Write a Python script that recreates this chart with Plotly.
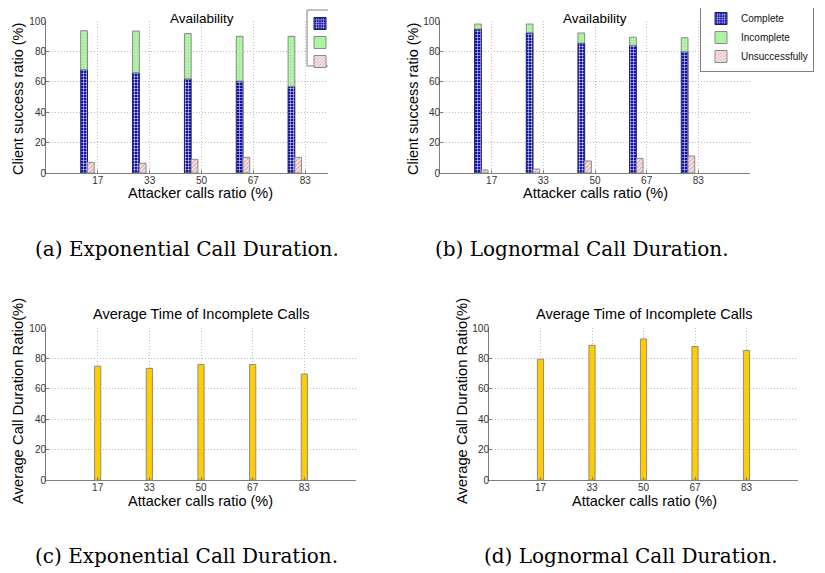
import plotly.graph_objects as go

# ---------------- data ----------------
categories = ["17", "33", "50", "67", "83"]

exp_complete = [68.0, 66.0, 62.0, 60.5, 57.0]
exp_incomplete = [25.6, 27.4, 29.7, 29.4, 32.9]
exp_unsuccessful = [7.0, 6.4, 9.0, 10.3, 10.3]

logn_complete = [94.7, 92.3, 85.5, 84.0, 79.8]
logn_incomplete = [3.3, 5.7, 6.6, 5.3, 9.2]
logn_unsuccessful = [2.0, 2.6, 7.9, 9.6, 11.2]

exp_avg_time = [74.9, 73.4, 76.0, 76.0, 69.7]
logn_avg_time = [79.5, 88.6, 92.8, 87.8, 85.2]

series_names = ["Complete", "Incomplete", "Unsuccessfully"]
y_ticks = [0, 20, 40, 60, 80, 100]

positions = list(range(1, len(categories) + 1))

# ---------------- styles ----------------
W, H = 825, 573
OX, OY = 8, 8          # page body margin compensation
SANS = "Liberation Sans, Arial, sans-serif"
SERIF = "DejaVu Serif, serif"

complete_style = dict(
    color="#1414b4",
    line=dict(color="#1a1a6a", width=1),
    pattern=dict(shape="+", fillmode="replace", bgcolor="#1010b0",
                 fgcolor="#ffffff", size=3, solidity=0.3),
)
incomplete_style = dict(
    color="#b0f5a5",
    line=dict(color="#8a8a8a", width=1),
    pattern=dict(shape="+", fillmode="replace", bgcolor="#b4f8aa",
                 fgcolor="#9fe494", size=3, solidity=0.3),
)
unsucc_style = dict(
    color="#f5dede",
    line=dict(color="#8a8a8a", width=1),
    pattern=dict(shape="/", fillmode="replace", bgcolor="#f8e6e6",
                 fgcolor="#d49a9a", size=3, solidity=0.3),
)
yellow_style = dict(color="#ffcc00", line=dict(color="#8c8c8c", width=1))

BAR_W = 0.13
OFF_STACK = -0.33
OFF_UNS = -0.20


def fx(px):
    return (px - OX) / W


def fy(py):
    return 1 - (py - OY) / H


def px_x(a, b):
    return [fx(a), fx(b)]


def px_y(top, bottom):
    return [fy(bottom), fy(top)]


fig = go.Figure()

# ---- (a) exponential availability ----
fig.add_trace(go.Bar(x=positions, y=exp_complete, width=BAR_W, offset=OFF_STACK,
                     marker=complete_style, name=" ", legend="legend2",
                     xaxis="x", yaxis="y"))
fig.add_trace(go.Bar(x=positions, y=exp_incomplete, base=exp_complete, width=BAR_W,
                     offset=OFF_STACK, marker=incomplete_style, name=" ",
                     legend="legend2", xaxis="x", yaxis="y"))
fig.add_trace(go.Bar(x=positions, y=exp_unsuccessful, width=BAR_W, offset=OFF_UNS,
                     marker=unsucc_style, name=" ", legend="legend2",
                     xaxis="x", yaxis="y"))

# ---- (b) lognormal availability ----
fig.add_trace(go.Bar(x=positions, y=logn_complete, width=BAR_W, offset=OFF_STACK,
                     marker=complete_style, name=series_names[0], legend="legend",
                     xaxis="x2", yaxis="y2"))
fig.add_trace(go.Bar(x=positions, y=logn_incomplete, base=logn_complete, width=BAR_W,
                     offset=OFF_STACK, marker=incomplete_style, name=series_names[1],
                     legend="legend", xaxis="x2", yaxis="y2"))
fig.add_trace(go.Bar(x=positions, y=logn_unsuccessful, width=BAR_W, offset=OFF_UNS,
                     marker=unsucc_style, name=series_names[2], legend="legend",
                     xaxis="x2", yaxis="y2"))

# ---- (c) / (d) average time of incomplete calls ----
fig.add_trace(go.Bar(x=positions, y=exp_avg_time, width=0.12, marker=yellow_style,
                     showlegend=False, xaxis="x3", yaxis="y3"))
fig.add_trace(go.Bar(x=positions, y=logn_avg_time, width=0.12, marker=yellow_style,
                     showlegend=False, xaxis="x4", yaxis="y4"))

axis_common = dict(
    showline=True, linecolor="#808080", linewidth=1, mirror=False,
    showgrid=True, gridcolor="#bdbdbd", griddash="1px,2px", gridwidth=1,
    zeroline=False, ticks="inside", ticklen=3, tickcolor="#808080",
    tickfont=dict(family=SANS, size=10, color="#333333"),
    automargin=False,
)


def xax(domain, anchor, rng):
    d = dict(axis_common)
    d.update(domain=domain, anchor=anchor, range=rng, tickmode="array",
             tickvals=positions, ticktext=categories, ticklabelstandoff=-2)
    return d


def yax(domain, anchor):
    d = dict(axis_common)
    d.update(domain=domain, anchor=anchor, range=[0, 100], tickmode="array",
             tickvals=y_ticks, ticklabelstandoff=-3)
    return d


fig.update_layout(
    width=W, height=H,
    margin=dict(l=0, r=0, t=0, b=0, autoexpand=False),
    paper_bgcolor="white", plot_bgcolor="white",
    barmode="overlay",
    showlegend=True,
    xaxis=xax(px_x(46, 328), "y", [0, 5.44]),
    yaxis=yax(px_y(21, 173), "x"),
    xaxis2=xax(px_x(440, 750), "y2", [0, 6]),
    yaxis2=yax(px_y(21, 173), "x2"),
    xaxis3=xax(px_x(46, 356), "y3", [0, 6]),
    yaxis3=yax(px_y(328, 480), "x3"),
    xaxis4=xax(px_x(489, 798), "y4", [0, 6]),
    yaxis4=yax(px_y(328, 480), "x4"),
    legend=dict(x=fx(700), y=fy(3), xanchor="left", yanchor="top",
                bgcolor="white", bordercolor="#808080", borderwidth=1,
                font=dict(family=SANS, size=10, color="#111111"),
                tracegroupgap=0, itemwidth=30),
    legend2=dict(x=fx(300), y=fy(9), xanchor="left", yanchor="top",
                 bgcolor="rgba(0,0,0,0)", borderwidth=0,
                 font=dict(family=SANS, size=11, color="#111111"),
                 tracegroupgap=0, itemwidth=30),
)

# clipped legend frame of panel (a)
shapes = [
    dict(type="rect", xref="paper", yref="paper", x0=fx(307), x1=fx(328),
         y0=fy(66), y1=fy(10), fillcolor="white", line=dict(width=0), layer="above"),
    dict(type="line", xref="paper", yref="paper", x0=fx(307), x1=fx(328),
         y0=fy(10), y1=fy(10), line=dict(color="#808080", width=1), layer="above"),
    dict(type="line", xref="paper", yref="paper", x0=fx(307), x1=fx(328),
         y0=fy(66), y1=fy(66), line=dict(color="#808080", width=1), layer="above"),
    dict(type="line", xref="paper", yref="paper", x0=fx(307), x1=fx(307),
         y0=fy(66), y1=fy(10), line=dict(color="#808080", width=1), layer="above"),
]

ann = []


def text(x, y, s, size, family=SANS, angle=0, xanchor="center", yanchor="middle"):
    ann.append(dict(x=fx(x), y=fy(y), xref="paper", yref="paper", text=s,
                    showarrow=False, xanchor=xanchor, yanchor=yanchor,
                    textangle=angle, font=dict(family=family, size=size, color="black")))


# titles (panel a/b titles sit at the very top of the page)
text(202, 9, "Availability", 13.5, yanchor="top")
text(595, 9, "Availability", 13.5, yanchor="top")
text(201, 314, "Average Time of Incomplete Calls", 14.5)
text(644, 314, "Average Time of Incomplete Calls", 14.5)
# x-axis titles
text(200, 193, "Attacker calls ratio (%)", 14.5)
text(595, 193, "Attacker calls ratio (%)", 14.5)
text(200, 501, "Attacker calls ratio (%)", 14.5)
text(644, 501, "Attacker calls ratio (%)", 14.5)
# y-axis titles
text(18, 99, "Client success ratio (%)", 14.5, angle=-90)
text(413, 99, "Client success ratio (%)", 14.5, angle=-90)
text(18, 401, "Average Call Duration Ratio(%)", 14.8, angle=-90)
text(462, 401, "Average Call Duration Ratio(%)", 14.8, angle=-90)
# captions
text(33, 249, "(a) Exponential Call Duration.", 20, family=SERIF, xanchor="left")
text(433, 249, "(b) Lognormal Call Duration.", 20, family=SERIF, xanchor="left")
text(33, 556, "(c) Exponential Call Duration.", 20, family=SERIF, xanchor="left")
text(482, 556, "(d) Lognormal Call Duration.", 20, family=SERIF, xanchor="left")

fig.update_layout(annotations=ann, shapes=shapes)

fig.write_html("out.html")
